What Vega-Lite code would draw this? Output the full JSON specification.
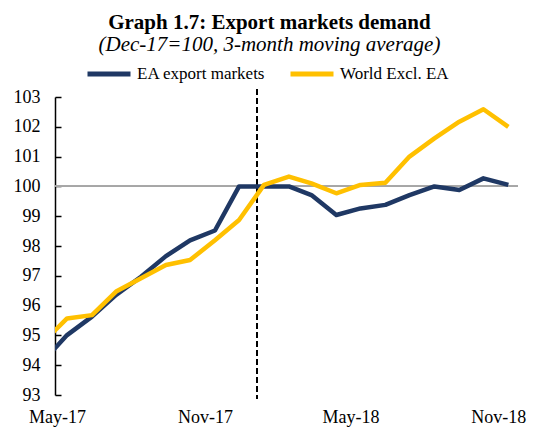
{
  "$schema": "https://vega.github.io/schema/vega-lite/v6.json",
  "width": 463,
  "height": 298,
  "autosize": {"type": "none"},
  "padding": {"left": 55, "top": 97, "right": 22, "bottom": 32},
  "background": "white",
  "title": {
    "text": "Graph 1.7: Export  markets demand",
    "subtitle": "(Dec-17=100, 3-month moving average)",
    "font": "Liberation Serif",
    "fontSize": 21,
    "fontWeight": "bold",
    "color": "black",
    "subtitleFont": "Liberation Serif",
    "subtitleFontSize": 21,
    "subtitleFontStyle": "italic",
    "subtitleColor": "black",
    "subtitlePadding": 1,
    "anchor": "middle",
    "frame": "bounds",
    "offset": -5
  },
  "data": {
    "values": [
      {"month": "2017-04-01", "series": "EA export markets", "value": 94.13},
      {"month": "2017-05-01", "series": "EA export markets", "value": 95.01},
      {"month": "2017-06-01", "series": "EA export markets", "value": 95.63},
      {"month": "2017-07-01", "series": "EA export markets", "value": 96.36},
      {"month": "2017-08-01", "series": "EA export markets", "value": 96.97},
      {"month": "2017-09-01", "series": "EA export markets", "value": 97.66},
      {"month": "2017-10-01", "series": "EA export markets", "value": 98.19},
      {"month": "2017-11-01", "series": "EA export markets", "value": 98.52},
      {"month": "2017-12-01", "series": "EA export markets", "value": 100.0},
      {"month": "2018-01-01", "series": "EA export markets", "value": 100.0},
      {"month": "2018-02-01", "series": "EA export markets", "value": 100.0},
      {"month": "2018-03-01", "series": "EA export markets", "value": 99.71},
      {"month": "2018-04-01", "series": "EA export markets", "value": 99.04},
      {"month": "2018-05-01", "series": "EA export markets", "value": 99.26},
      {"month": "2018-06-01", "series": "EA export markets", "value": 99.38},
      {"month": "2018-07-01", "series": "EA export markets", "value": 99.71},
      {"month": "2018-08-01", "series": "EA export markets", "value": 100.0},
      {"month": "2018-09-01", "series": "EA export markets", "value": 99.88},
      {"month": "2018-10-01", "series": "EA export markets", "value": 100.27},
      {"month": "2018-11-01", "series": "EA export markets", "value": 100.05},
      {"month": "2017-04-01", "series": "World Excl. EA", "value": 94.77},
      {"month": "2017-05-01", "series": "World Excl. EA", "value": 95.57},
      {"month": "2017-06-01", "series": "World Excl. EA", "value": 95.68},
      {"month": "2017-07-01", "series": "World Excl. EA", "value": 96.47},
      {"month": "2017-08-01", "series": "World Excl. EA", "value": 96.92},
      {"month": "2017-09-01", "series": "World Excl. EA", "value": 97.36},
      {"month": "2017-10-01", "series": "World Excl. EA", "value": 97.53},
      {"month": "2017-11-01", "series": "World Excl. EA", "value": 98.19},
      {"month": "2017-12-01", "series": "World Excl. EA", "value": 98.87},
      {"month": "2018-01-01", "series": "World Excl. EA", "value": 100.05},
      {"month": "2018-02-01", "series": "World Excl. EA", "value": 100.33},
      {"month": "2018-03-01", "series": "World Excl. EA", "value": 100.1},
      {"month": "2018-04-01", "series": "World Excl. EA", "value": 99.77},
      {"month": "2018-05-01", "series": "World Excl. EA", "value": 100.05},
      {"month": "2018-06-01", "series": "World Excl. EA", "value": 100.12},
      {"month": "2018-07-01", "series": "World Excl. EA", "value": 101.0},
      {"month": "2018-08-01", "series": "World Excl. EA", "value": 101.61},
      {"month": "2018-09-01", "series": "World Excl. EA", "value": 102.17},
      {"month": "2018-10-01", "series": "World Excl. EA", "value": 102.59},
      {"month": "2018-11-01", "series": "World Excl. EA", "value": 102.0}
    ]
  },
  "layer": [
    {
      "mark": {"type": "rule", "color": "#a6a6a6", "strokeWidth": 1.2},
      "encoding": {"y": {"datum": 100, "type": "quantitative"}}
    },
    {
      "mark": {"type": "rule", "color": "black", "strokeWidth": 1.5, "strokeDash": [5, 4], "clip": false},
      "encoding": {
        "x": {"datum": {"year": 2017, "month": 12, "date": 23}, "type": "temporal"},
        "y": {"datum": 103.25, "type": "quantitative"},
        "y2": {"datum": 92.87}
      }
    },
    {
      "mark": {"type": "line", "strokeWidth": 4.5, "clip": true, "strokeJoin": "round"},
      "encoding": {
        "x": {
          "field": "month",
          "type": "temporal",
          "scale": {"domain": [{"year": 2017, "month": 4, "date": 16}, {"year": 2018, "month": 11, "date": 13}]},
          "axis": {
            "values": [{"year": 2017, "month": 5, "date": 1}, {"year": 2017, "month": 11, "date": 1}, {"year": 2018, "month": 5, "date": 1}, {"year": 2018, "month": 11, "date": 1}],
            "format": "%b-%y",
            "title": null,
            "domain": false,
            "ticks": false,
            "grid": false,
            "labelFont": "Liberation Serif",
            "labelFontSize": 18,
            "labelColor": "black",
            "labelPadding": 13,
            "labelOffset": -10,
            "labelFlush": false,
            "labelOverlap": false
          }
        },
        "y": {
          "field": "value",
          "type": "quantitative",
          "scale": {"domain": [93, 103], "nice": false, "zero": false},
          "axis": {
            "values": [93, 94, 95, 96, 97, 98, 99, 100, 101, 102, 103],
            "title": null,
            "grid": false,
            "domainColor": "black",
            "domainWidth": 1.5,
            "tickColor": "black",
            "tickWidth": 1.5,
            "tickSize": -6,
            "labelFont": "Liberation Serif",
            "labelFontSize": 18,
            "labelColor": "black",
            "labelPadding": 21,
            "labelOverlap": false,
            "labelFlush": false
          }
        },
        "color": {
          "field": "series",
          "type": "nominal",
          "scale": {"domain": ["EA export markets", "World Excl. EA"], "range": ["#1f3864", "#ffc000"]},
          "legend": {
            "orient": "none",
            "legendX": 30,
            "legendY": -47,
            "direction": "horizontal",
            "title": null,
            "symbolType": "stroke",
            "symbolSize": 1849,
            "symbolStrokeWidth": 5,
            "labelFont": "Liberation Serif",
            "labelFontSize": 17,
            "labelColor": "black",
            "labelOffset": 4,
            "columnPadding": 14
          }
        }
      }
    }
  ],
  "config": {
    "view": {"stroke": null},
    "axis": {"labelOverlap": false, "labelFlush": false},
    "axisY": {"labelOverlap": false, "tickCount": 11}
  }
}
